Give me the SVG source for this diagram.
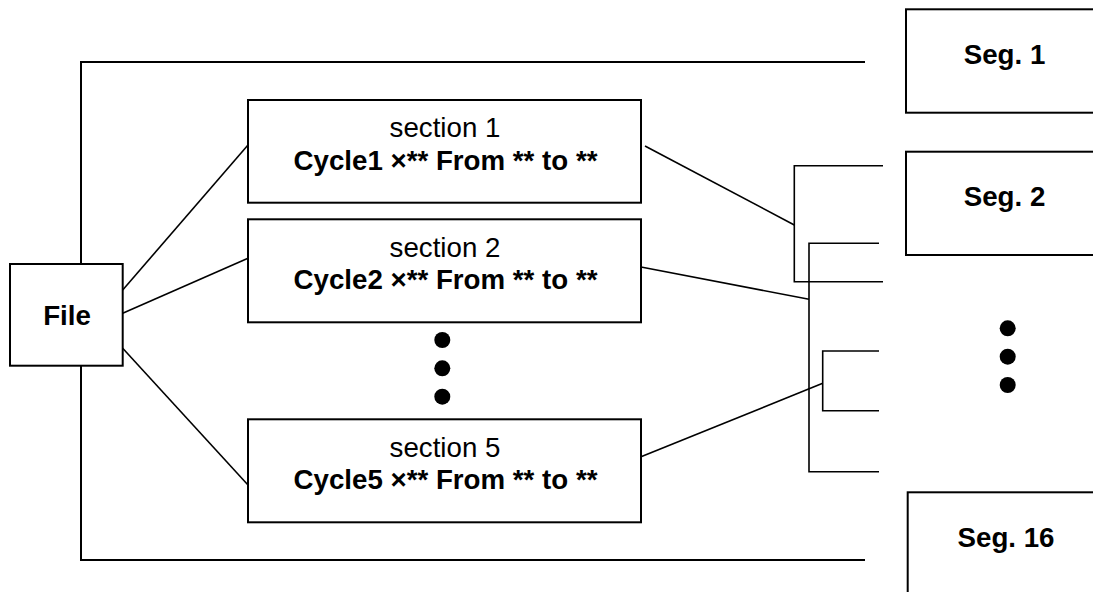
<svg xmlns="http://www.w3.org/2000/svg" width="1093" height="592" viewBox="0 0 1093 592">
<style>
.box{fill:#fff;stroke:#000;stroke-width:2}
.ln{fill:none;stroke:#000;stroke-width:1.6}
.frame{fill:none;stroke:#000;stroke-width:2}
.t{font-family:"Liberation Sans",Arial,sans-serif;font-size:27.7px;fill:#000;text-anchor:middle}
.b{font-weight:bold}
.dot{fill:#000}
</style>
<rect width="1093" height="592" fill="#fff"/>
<g id="connectors">
<polyline class="frame" points="865,62 81,62 81,560 865,560"/>
<line class="ln" x1="122.7" y1="290" x2="248" y2="145"/>
<line class="ln" x1="122.7" y1="313.3" x2="248" y2="258.3"/>
<line class="ln" x1="122.7" y1="348.3" x2="248" y2="485"/>
<line class="ln" x1="645" y1="146" x2="794.3" y2="225"/>
<polyline class="ln" points="883,165.7 794.3,165.7 794.3,281.7 883,281.7"/>
<line class="ln" x1="641" y1="267" x2="809" y2="299.3"/>
<polyline class="ln" points="879,243.3 809,243.3 809,471.7 879,471.7"/>
<line class="ln" x1="641" y1="456.7" x2="822.7" y2="383.3"/>
<polyline class="ln" points="879,351 822.7,351 822.7,410.7 879,410.7"/>
</g>
<g id="file">
<rect class="box" x="10" y="264" width="112.7" height="101.7"/>
<text class="t b" x="67" y="325">File</text>
</g>
<g id="section1">
<rect class="box" x="248" y="100" width="393" height="102.7"/>
<text class="t" x="445" y="137">section 1</text>
<text class="t b" x="445.5" y="169.5">Cycle1 ×** From ** to **</text>
</g>
<g id="section2">
<rect class="box" x="248" y="219.3" width="393" height="103"/>
<text class="t" x="445" y="257">section 2</text>
<text class="t b" x="445.5" y="288.5">Cycle2 ×** From ** to **</text>
</g>
<g id="section-dots">
<circle class="dot" cx="442.3" cy="340" r="8"/>
<circle class="dot" cx="442.3" cy="368.3" r="8"/>
<circle class="dot" cx="442.3" cy="396.7" r="8"/>
</g>
<g id="section5">
<rect class="box" x="248" y="419.3" width="393" height="103"/>
<text class="t" x="445" y="457">section 5</text>
<text class="t b" x="445.5" y="488.5">Cycle5 ×** From ** to **</text>
</g>
<g id="seg1">
<rect class="box" x="906" y="9.3" width="200" height="103.4"/>
<text class="t b" x="1004.5" y="63.5">Seg. 1</text>
</g>
<g id="seg2">
<rect class="box" x="906" y="151.7" width="200" height="103.3"/>
<text class="t b" x="1004.5" y="206">Seg. 2</text>
</g>
<g id="seg-dots">
<circle class="dot" cx="1007.7" cy="328.3" r="8"/>
<circle class="dot" cx="1007.7" cy="356.7" r="8"/>
<circle class="dot" cx="1007.7" cy="385" r="8"/>
</g>
<g id="seg16">
<rect class="box" x="907.7" y="492.3" width="200" height="120"/>
<text class="t b" x="1006" y="547">Seg. 16</text>
</g>
</svg>
